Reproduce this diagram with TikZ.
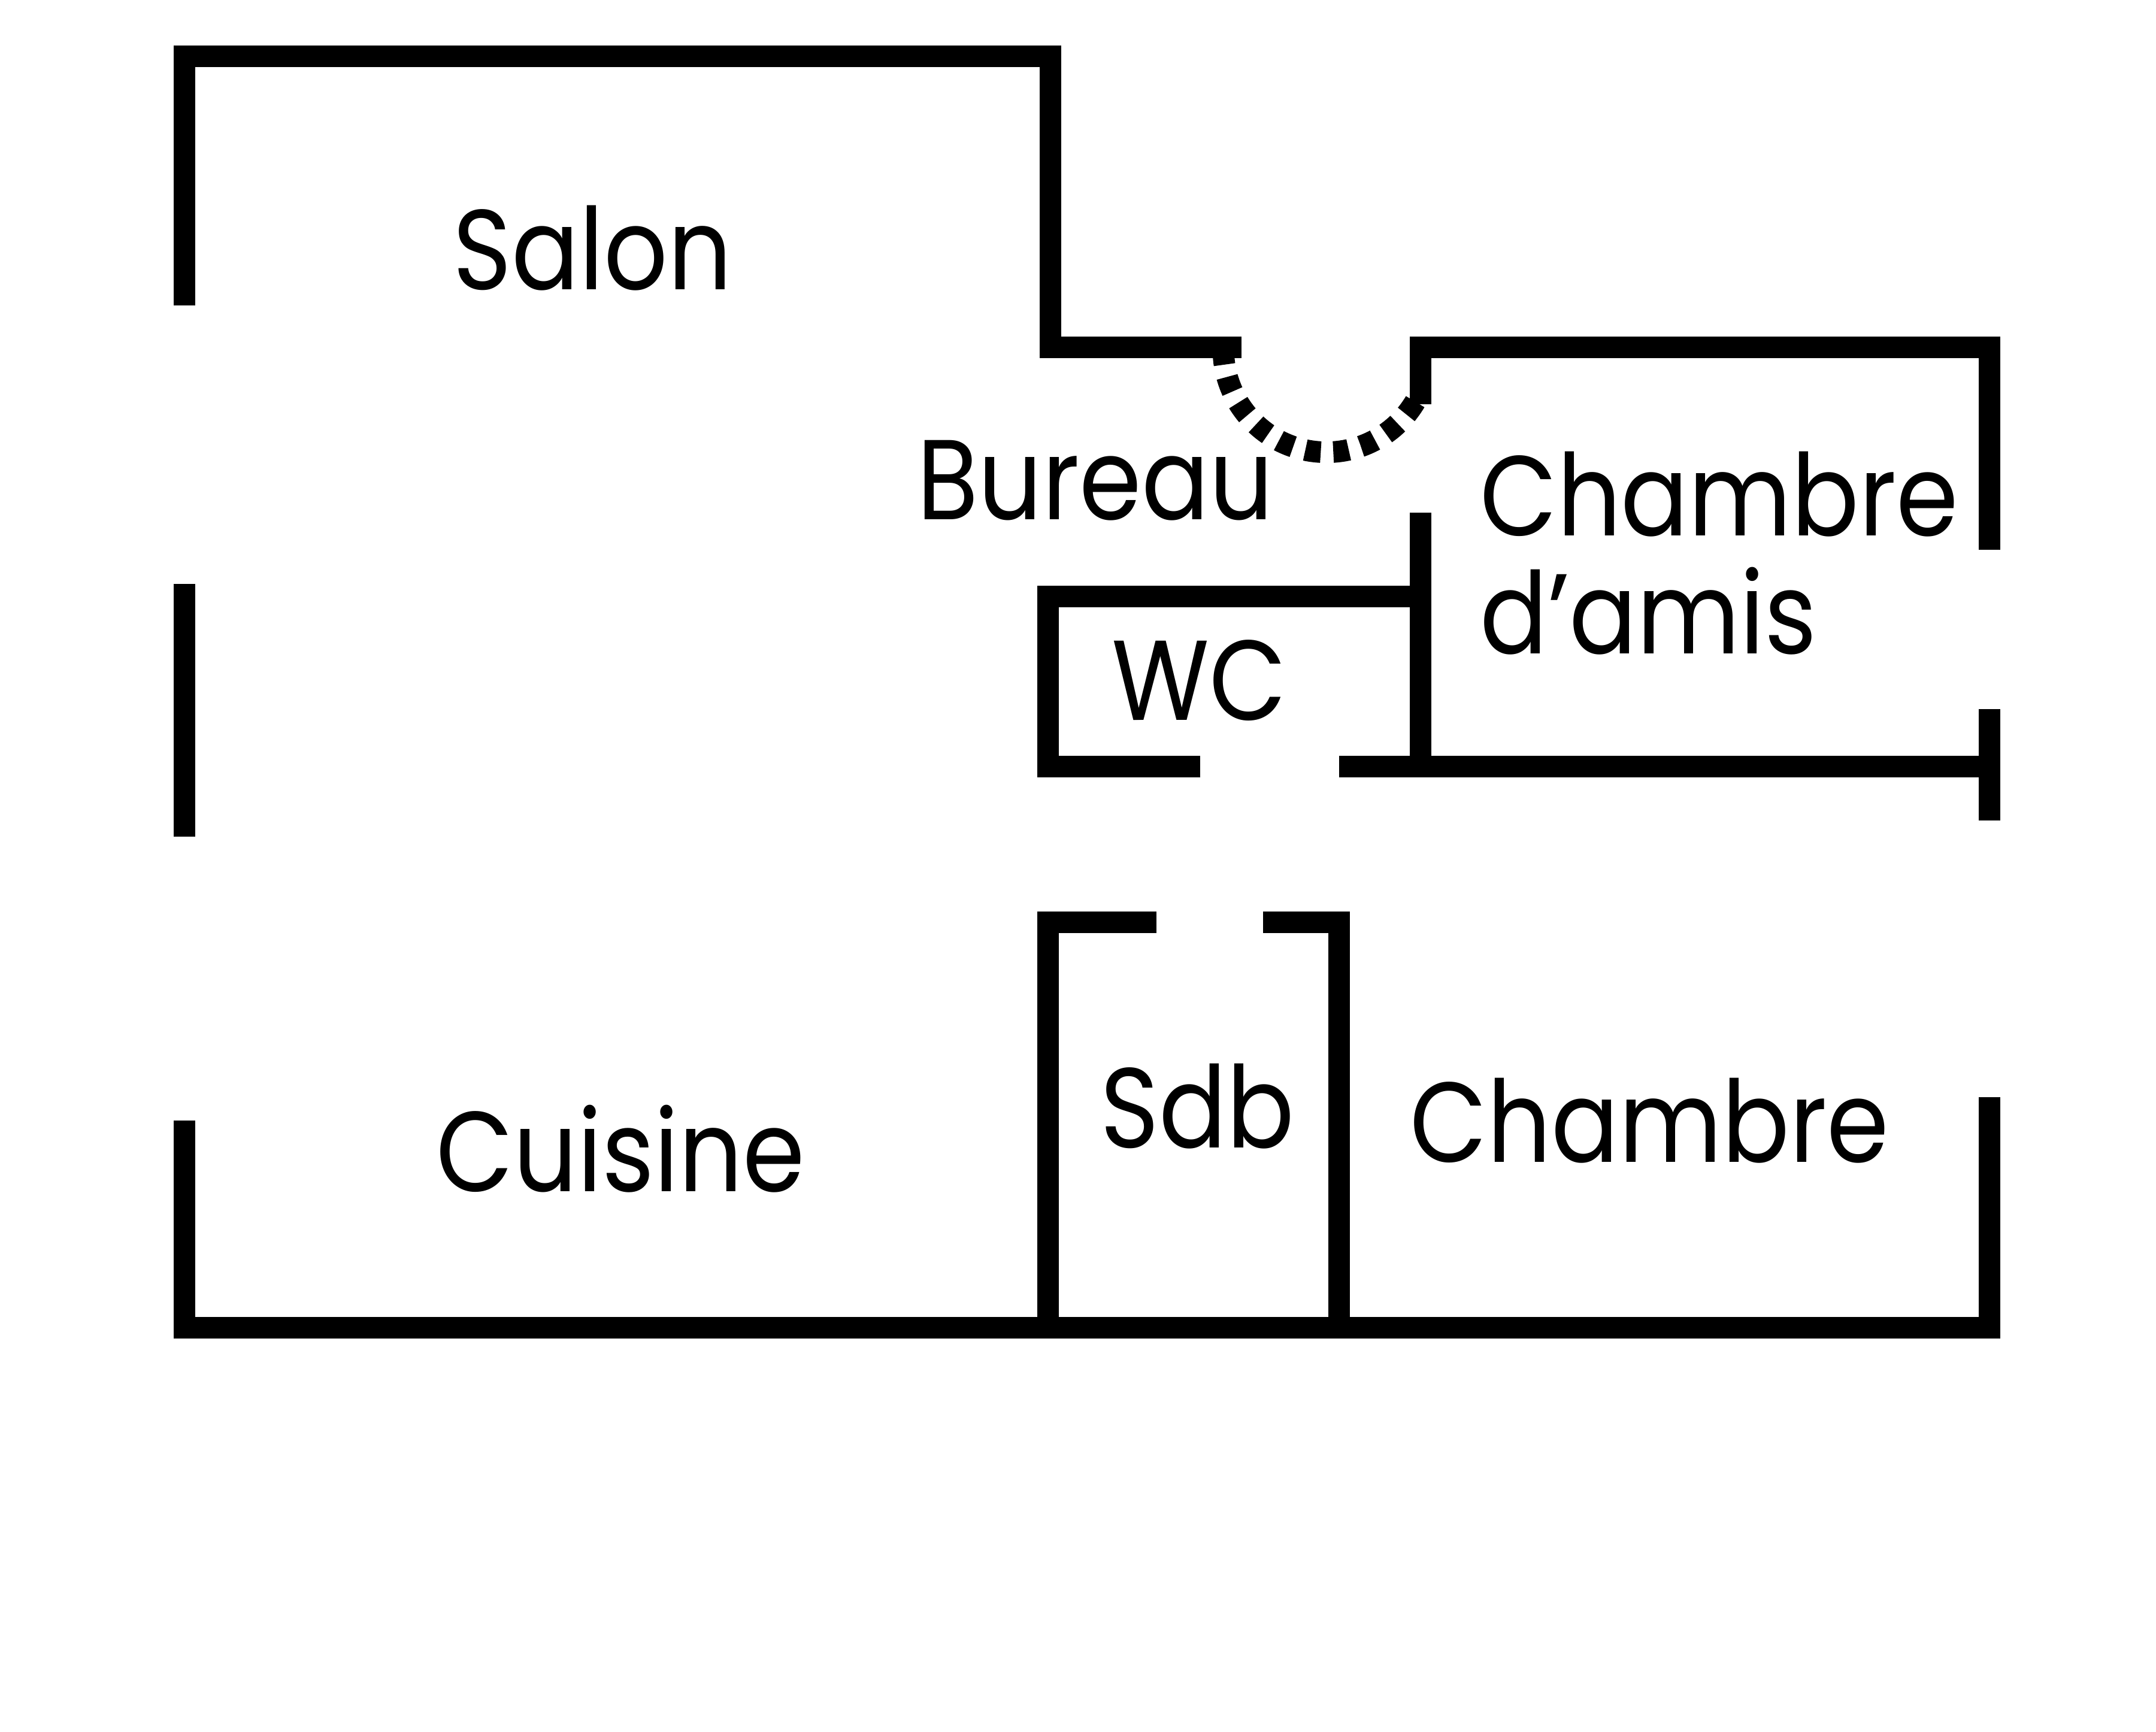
\documentclass[tikz,border=0pt]{standalone}
\usepackage{fontspec}
\setmainfont{Poppins}[FakeStretch=0.88]
\begin{document}
\begin{tikzpicture}[x=0.022959cm, y=-0.022959cm,
  wall/.style={line width=0.36cm, black, line join=miter},
  door/.style={line width=0.36cm, black, dash pattern=on 0.26cm off 0.21cm},
  room/.style={font=\fontsize{54}{60}\selectfont, inner sep=0pt}]

\useasboundingbox (0,0) rectangle (1568,1259.6);

\coordinate (D) at (889.7,253.9);

% door
\draw[door] (D) arc[start angle=180, end angle=28, radius=75];

% walls
\draw[wall] (134,222) to (134,41) to (764,41) to (764,252.6) to (903,252.6);
\draw[wall] (1033,294) to (1033,252.6) to (1447,252.6) to (1447,400);
\draw[wall] (1033,373) to (1033,557.5);
\draw[wall] (873,557.5) to (762,557.5) to (762,434) to (1033,434);
\draw[wall] (974,557.5) to (1447,557.5);
\draw[wall] (1447,515.7) to (1447,596.8);
\draw[wall] (134,424.7) to (134,608.5);
\draw[wall] (134,815) to (134,965.5) to (1447,965.5) to (1447,798);
\draw[wall] (841,670.6) to (762,670.6) to (762,965.5);
\draw[wall] (918.5,670.6) to (974,670.6) to (974,965.5);

\node[room, anchor=base] (salon) at (430.8,210.4) {Salon};
\node[room, anchor=base] (bureau) at (796.5,378) {Bureau};
\node[room, anchor=base] (wc) at (872,523.6) {WC};
\node[room, anchor=base west] (amis) at (1076,389.4) {Chambre};
\node[room, anchor=base west] (amis2) at (1076,475.6) {d'amis};
\node[room, anchor=base] (cuisine) at (451.5,866.7) {Cuisine};
\node[room, anchor=base] (sdb) at (871,834.8) {Sdb};
\node[room, anchor=base] (chambre) at (1199.7,845) {Chambre};

\end{tikzpicture}
\end{document}
